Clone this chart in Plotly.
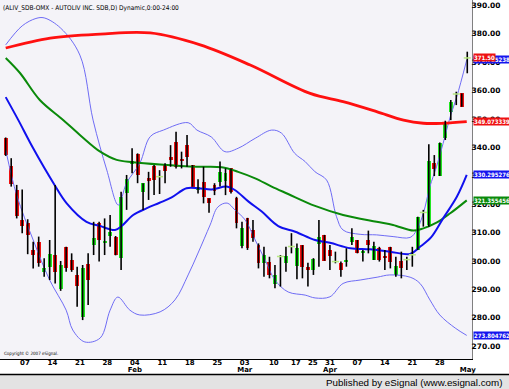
import plotly.graph_objects as go

# ---------------- data ----------------
open_ = [343.2, 333.6, 325.0, 314.4, 313.3, 303.9, 306.8, 296.2, 298.0, 302.1,
         290.0, 304.8, 300.4, 295.1, 280.4, 298.9, 305.6, 313.3, 306.5, 308.9,
         308.6, 300.9, 323.8, 334.2, 337.6, 324.4, 329.1, 333.5, 329.9, 334.0,
         336.7, 342.0, 335.8, 340.8, 333.8, 325.0, 327.9, 322.1, 326.8, 327.9,
         328.3, 332.6, 322.1, 305.3, 315.0, 310.9, 305.6, 299.2, 299.8, 291.9,
         301.3, 299.2, 304.9, 298.2, 305.6, 297.8, 296.8, 306.0, 309.2, 303.9,
         299.9, 299.4, 299.6, 306.8, 307.4, 302.7, 307.4, 300.4, 304.7, 301.6,
         304.8, 295.1, 300.1, 300.3, 302.0, 303.9, 316.9, 312.7, 334.6, 329.9,
         343.2, 352.6, 358.6, 359.0, 371.4]
high = [343.5, 336.2, 326.8, 325.2, 314.7, 306.8, 308.6, 301.0, 307.4, 326.8,
        300.0, 305.0, 302.7, 298.0, 298.6, 302.7, 313.8, 313.8, 315.0, 316.2,
        308.8, 324.4, 330.3, 339.7, 337.9, 327.4, 331.4, 333.8, 332.0, 334.4,
        340.8, 345.5, 338.5, 344.4, 333.8, 328.8, 333.2, 322.1, 327.4, 335.0,
        332.6, 332.6, 322.6, 313.8, 315.2, 314.4, 306.2, 305.0, 301.5, 298.6,
        302.1, 305.0, 309.8, 306.2, 305.6, 299.4, 301.0, 314.4, 309.2, 305.6,
        303.3, 299.8, 304.5, 311.5, 307.4, 303.9, 310.7, 306.8, 305.0, 303.9,
        305.0, 301.5, 303.3, 301.5, 305.0, 315.6, 318.0, 341.1, 337.3, 341.7,
        349.4, 356.7, 359.6, 359.0, 373.7]
low = [337.0, 326.2, 315.0, 309.8, 302.4, 297.4, 298.0, 294.5, 293.3, 292.1,
       289.5, 296.2, 296.2, 283.9, 279.2, 284.5, 302.1, 299.8, 302.1, 305.0,
       302.0, 296.8, 318.0, 330.9, 327.4, 318.0, 321.5, 323.2, 323.6, 327.4,
       333.2, 332.6, 332.6, 333.2, 326.2, 323.8, 320.3, 317.0, 323.2, 326.2,
       323.2, 323.8, 311.5, 304.5, 303.9, 306.8, 297.4, 294.5, 293.9, 290.4,
       291.0, 296.2, 302.7, 293.6, 293.9, 291.0, 295.1, 298.0, 300.1, 296.8,
       299.2, 294.5, 298.0, 305.6, 302.7, 299.8, 302.7, 300.4, 299.8, 296.8,
       297.4, 294.5, 293.9, 296.8, 298.0, 303.9, 312.1, 312.1, 329.9, 329.9,
       342.6, 349.6, 354.9, 354.3, 366.1]
close = [337.3, 327.1, 315.8, 312.3, 309.2, 302.1, 299.2, 297.4, 302.4, 296.2,
         298.6, 297.4, 296.8, 291.2, 297.4, 293.3, 308.0, 307.4, 306.9, 310.3,
         302.1, 322.6, 328.8, 335.3, 330.3, 327.4, 328.5, 328.5, 329.7, 331.8,
         335.6, 333.2, 335.3, 336.7, 326.2, 326.2, 322.4, 320.5, 324.8, 331.4,
         330.9, 324.4, 313.3, 311.5, 304.5, 308.0, 299.2, 302.1, 295.1, 295.1,
         301.6, 301.8, 305.1, 304.5, 298.0, 296.8, 300.6, 308.3, 300.1, 301.8,
         299.8, 296.8, 300.4, 308.3, 302.9, 303.6, 305.6, 305.3, 300.4, 301.2,
         299.8, 298.2, 297.4, 300.5, 302.2, 315.6, 317.1, 335.2, 332.3, 341.7,
         348.7, 356.1, 358.8, 354.3, 371.5]

# moving averages and Bollinger bands, sampled at (bar index, price)
ma20_x = [0, 2.3, 5.0, 8.7, 11.1, 14.7, 17.2, 19.9, 21.1, 23.2, 25.7, 28.0, 30.2, 32.9,
          35.1, 37.5, 40.2, 41.7, 44.2, 46.6, 49.6, 52.7, 56.3, 59.0, 62.7, 66.3, 69.9,
          73.6, 75.4, 77.4, 79.6, 82.1, 83.9]
ma20_y = [357.7, 349.6, 339.7, 327.4, 320.3, 313.8, 312.3, 310.9, 312.3, 316.2, 318.6,
          320.5, 322.4, 325.6, 325.6, 325.2, 326.2, 325.0, 320.9, 317.4, 312.3, 310.3,
          307.4, 306.4, 304.5, 304.1, 303.3, 302.5, 305.0, 308.3, 315.0, 322.6, 330.295276]

ma50_x = [0, 2.6, 6.2, 10.5, 13.5, 17.2, 20.2, 23.2, 28.1, 34.8, 39.3, 42.3, 45.4, 48.4,
          51.4, 56.3, 61.4, 67.5, 70.5, 74.2, 76.0, 78.4, 80.9, 83.9]
ma50_y = [371.5, 366.2, 356.7, 349.6, 344.4, 338.5, 335.6, 334.8, 334.0, 333.2, 333.0,
          331.4, 329.1, 326.2, 323.6, 319.4, 316.2, 313.8, 312.7, 310.7, 311.5, 313.5,
          316.8, 321.355456]

ma200_x = [0, 8.1, 17.2, 26.3, 35.4, 44.5, 55.4, 61.4, 67.5, 72.4, 76.0, 79.6, 83.9]
ma200_y = [375.0, 378.5, 379.9, 380.3, 376.1, 369.0, 359.0, 356.1, 352.6, 349.6, 348.5,
           348.5, 349.073339]

bb_up_x = [0, 3, 5.5, 7, 10, 13.5, 15.9, 18.4, 20.5, 22.0, 24.4, 26.3, 28.7, 33.2, 34.8,
           37.4, 39.9, 42.3, 45.4, 48.4, 50.2, 52.6, 54.5, 56.3, 58.4, 60.2, 61.4, 64.5,
           67.5, 70.5, 73.6, 74.8, 76.0, 77.2, 78.4, 79.6, 80.9, 82.1, 83.9]
bb_up_y = [376.1, 382.8, 385.4, 385.6, 382.0, 372.5, 349.6, 332.0, 319.7, 327.5, 334.4,
           343.8, 346.1, 348.7, 346.1, 343.7, 338.5, 339.7, 343.2, 346.1, 345.0, 337.9,
           335.0, 331.4, 328.5, 315.6, 310.9, 309.4, 309.2, 308.6, 308.3, 310.9, 316.8,
           326.2, 333.2, 341.4, 350.8, 357.9, 370.785238]

bb_lo_x = [0, 2.0, 5.0, 8.0, 11.0, 12.2, 14.4, 17.2, 19.0, 20.4, 22.6, 24.4, 28.1, 30.8,
           33.2, 35.0, 37.2, 38.6, 40.3, 41.7, 43.6, 45.4, 47.2, 49.0, 51.4, 54.5, 56.3,
           59.0, 61.4, 64.5, 67.6, 69.9, 73.6, 75.4, 77.2, 79.0, 81.8, 83.9]
bb_lo_y = [339.1, 323.2, 307.4, 293.3, 282.7, 275.7, 271.5, 272.9, 282.7, 287.3, 282.7,
           281.0, 282.1, 286.3, 295.1, 302.8, 312.7, 319.0, 320.4, 318.0, 314.4, 307.4,
           300.4, 293.3, 289.1, 288.0, 287.0, 287.4, 292.1, 293.3, 294.3, 295.1, 294.3,
           292.1, 286.3, 281.0, 276.4, 273.804762]

# x-axis tick labels (bar position, label)
xtick_pos = [3.5, 8.5, 13.5, 18.5, 23.5, 28.5, 33.5, 38.5, 43.5, 48.8, 52.8, 55.9,
             59.0, 64.0, 69.0, 74.0, 79.0]
xtick_day = ["07", "14", "21", "28", "04", "11", "18", "25", "03", "10", "17", "25",
             "31", "07", "14", "21", "28"]
month_pos = [23.5, 43.5, 59.0, 84.1]
month_text = ["Feb", "Mar", "Apr", "May"]

ytick_vals = [270, 280, 290, 300, 310, 320, 330, 340, 350, 360, 370, 380, 390]

title_text = "(ALIV_SDB-OMX - AUTOLIV INC. SDB,D) Dynamic,0:00-24:00"

# ---------------- figure ----------------
W, H = 509, 389
PLOT_H = 359
n = len(close)
idx = list(range(n))
XR = [-1.04, 84.86]

fig = go.Figure()

BAND = "#6f6cf5"
fig.add_trace(go.Scatter(x=bb_up_x, y=bb_up_y, mode="lines", line=dict(color=BAND, width=1, shape="spline"), hoverinfo="skip"))
fig.add_trace(go.Scatter(x=bb_lo_x, y=bb_lo_y, mode="lines", line=dict(color=BAND, width=1, shape="spline"), hoverinfo="skip"))
fig.add_trace(go.Scatter(x=ma200_x, y=ma200_y, mode="lines", line=dict(color="#ff1010", width=2.8, shape="spline"), hoverinfo="skip"))
fig.add_trace(go.Scatter(x=ma50_x, y=ma50_y, mode="lines", line=dict(color="#0a8a0a", width=2, shape="spline"), hoverinfo="skip"))
fig.add_trace(go.Scatter(x=ma20_x, y=ma20_y, mode="lines", line=dict(color="#1010ee", width=2, shape="spline"), hoverinfo="skip"))

# wicks
wx, wy = [], []
for i in idx:
    wx += [i, i, None]
    wy += [low[i], high[i], None]
fig.add_trace(go.Scatter(x=wx, y=wy, mode="lines", line=dict(color="#000000", width=1.6), hoverinfo="skip"))

# bodies
base = [min(o, c) for o, c in zip(open_, close)]
hgt = [abs(c - o) for o, c in zip(open_, close)]
cols = ["#22e622" if c > o else "#ee1111" for o, c in zip(open_, close)]
body_i = [i for i in idx if hgt[i] >= 0.35]
fig.add_trace(go.Bar(x=body_i, y=[hgt[i] for i in body_i], base=[base[i] for i in body_i],
                     marker=dict(color=[cols[i] for i in body_i], line=dict(width=0)),
                     width=0.72, hoverinfo="skip"))
doji_i = [i for i in idx if hgt[i] < 0.35]
fig.add_trace(go.Scatter(x=doji_i, y=[close[i] for i in doji_i], mode="markers",
                         marker=dict(symbol="line-ew-open", size=5, line=dict(color="#000000", width=1.5)),
                         hoverinfo="skip"))
# invisible carrier for the month axis
fig.add_trace(go.Scatter(x=month_pos, y=[ytick_vals[0]] * len(month_pos), xaxis="x2", mode="markers",
                         marker=dict(opacity=0), hoverinfo="skip"))

tfont = dict(family="DejaVu Sans", size=7, color="#000000", weight="bold")
fig.update_layout(
    width=W, height=H,
    margin=dict(l=0, r=37, t=0, b=H - PLOT_H, autoexpand=False),
    paper_bgcolor="#ffffff",
    plot_bgcolor="#f4f3f8",
    showlegend=False,
    bargap=0,
    xaxis=dict(range=XR, tickvals=xtick_pos, ticktext=xtick_day, automargin=False,
               showgrid=False, zeroline=False, showline=True, linecolor="#000000", linewidth=1,
               ticks="", ticklen=0, ticklabelstandoff=-3, tickfont=tfont, fixedrange=True),
    xaxis2=dict(range=XR, overlaying="x", anchor="y", side="bottom", tickvals=month_pos,
                ticktext=month_text, automargin=False, showgrid=False, zeroline=False,
                showline=False, ticks="", ticklen=0, ticklabelstandoff=5, tickfont=tfont,
                fixedrange=True),
    yaxis=dict(range=[265.5, 391.9], side="right", tickvals=ytick_vals, tickformat=".2f", automargin=False,
               showgrid=False, zeroline=False, showline=True, linecolor="#808080", linewidth=1,
               ticks="", ticklabelstandoff=-3,
               tickfont=dict(family="DejaVu Sans", size=7.5, color="#000000", weight="bold"),
               fixedrange=True),
)

# right-hand value boxes
def vbox(val, txt, bg):
    fig.add_annotation(x=1, xref="paper", y=val, yref="y", xanchor="left", yanchor="middle",
                       text=txt, showarrow=False, bgcolor=bg, borderpad=0, xshift=0.5,
                       font=dict(family="DejaVu Sans Condensed, DejaVu Sans", size=6,
                                 color="#ffffff", weight="bold"))

vbox(bb_up_y[-1], "%.6f" % bb_up_y[-1], "#1515ee")
vbox(close[-1], "%.2f" % close[-1], "#ee1111")
vbox(ma200_y[-1], "%.6f" % ma200_y[-1], "#ee1111")
vbox(ma20_y[-1], "%.6f" % ma20_y[-1], "#1515ee")
vbox(ma50_y[-1], "%.6f" % ma50_y[-1], "#0a8a0a")
vbox(bb_lo_y[-1], "%.6f" % bb_lo_y[-1], "#1515ee")

# title and footer texts
fig.add_annotation(x=0, xref="paper", y=1, yref="paper", xanchor="left", yanchor="top",
                   text=title_text, showarrow=False, xshift=1, yshift=-2,
                   font=dict(family="DejaVu Sans Condensed, DejaVu Sans", size=6.5, color="#000000"))
fig.add_annotation(x=0, xref="paper", y=0, yref="paper", xanchor="left", yanchor="bottom",
                   text="Copyright © 2007 eSignal.", showarrow=False, xshift=2, yshift=1,
                   font=dict(family="DejaVu Sans Condensed, DejaVu Sans", size=4.5, color="#000000"))

# footer band
fy = lambda py: (PLOT_H - py) / PLOT_H
fig.add_shape(type="rect", xref="paper", yref="paper", x0=-0.01, x1=1.1,
              y0=fy(392), y1=fy(375), fillcolor="#e3e3e3", line=dict(width=0), layer="below")
fig.add_shape(type="line", xref="paper", yref="paper", x0=-0.01, x1=1.1,
              y0=fy(374.5), y1=fy(374.5), line=dict(color="#000000", width=1.5))
fig.add_annotation(x=1, xref="paper", y=fy(382), yref="paper", xanchor="right", yanchor="middle",
                   text="Published by eSignal (www.esignal.com)", showarrow=False, xshift=32,
                   font=dict(family="Liberation Sans", size=9.8, color="#000000"))

fig.write_html("out.html", config={"displayModeBar": False},
               post_script="document.body.style.margin='0px';document.body.style.padding='0px';")
